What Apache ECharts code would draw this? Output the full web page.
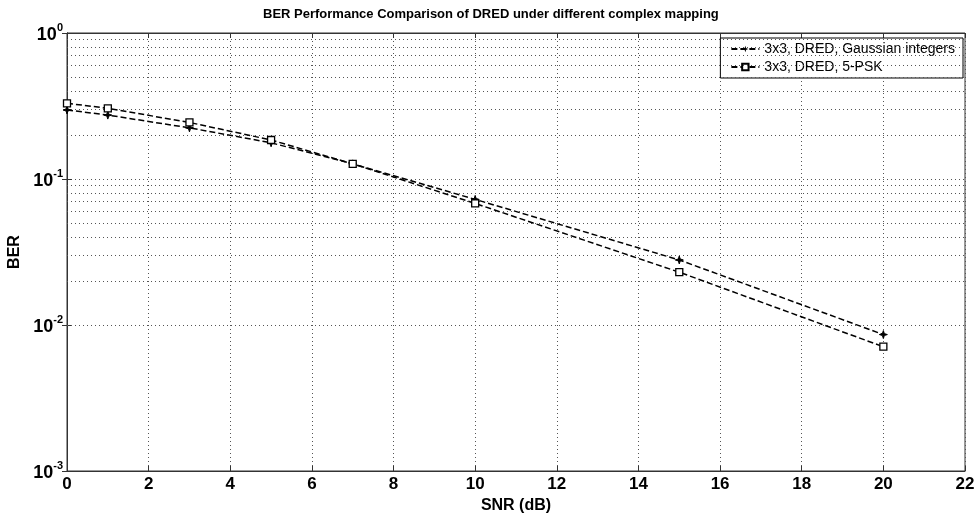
<!DOCTYPE html>
<html>
<head>
<meta charset="utf-8">
<script src="https://cdn.jsdelivr.net/npm/echarts@6/dist/echarts.min.js"></script>
<style>
  html, body { margin: 0; padding: 0; background: #fff; }
  #chart { width: 975px; height: 518px; }
</style>
</head>
<body>
<div id="chart"></div>
<script>
// SNR points (dB)
const snr = [0, 1, 3, 5, 7, 10, 15, 20];
// BER
const berGaussian = [0.297, 0.274, 0.224, 0.177, 0.127, 0.0725, 0.0279, 0.0086];
const berPsk5 = [0.33, 0.305, 0.244, 0.185, 0.127, 0.068, 0.0230, 0.0071];
const seriesNames = ['3x3, DRED, Gaussian integers', '3x3, DRED, 5-PSK'];
// decades of the log axis, minor grid at 2..9 inside each
const decades = [0.001, 0.01, 0.1];
const minorSteps = [2, 3, 4, 5, 6, 7, 8, 9];

const font = '"Liberation Sans", Arial, Helvetica, sans-serif';
const gridDot = { color: '#555', type: [1, 3], width: 1 };

const minorLines = [];
decades.forEach(d => minorSteps.forEach(k => minorLines.push({ yAxis: +(d * k).toPrecision(3) })));

const toPairs = ys => snr.map((x, i) => [x, ys[i]]);

const chart = echarts.init(document.getElementById('chart'));

const option = {
  animation: false,
  backgroundColor: '#fff',
  textStyle: { fontFamily: font },
  title: {
    text: 'BER Performance Comparison of DRED under different complex mapping',
    left: 258, top: 3,
    textStyle: { fontSize: 13, fontWeight: 'bold', color: '#000', fontFamily: font }
  },
  legend: {
    orient: 'vertical',
    right: 12, top: 38,
    backgroundColor: '#fff',
    borderColor: '#000', borderWidth: 1,
    padding: [4, 8, 4, 10],
    itemGap: 4,
    itemWidth: 28, itemHeight: 8,
    textStyle: { fontSize: 14, color: '#000', fontFamily: font },
    data: seriesNames
  },
  grid: {
    left: 67, right: 10, top: 33, bottom: 47,
    outerBoundsMode: 'none', containLabel: false,
    show: true, borderColor: '#333', borderWidth: 1
  },
  xAxis: [
    {
      type: 'value', min: 0, max: 22, interval: 2,
      name: 'SNR (dB)', nameLocation: 'middle', nameGap: 26,
      nameTextStyle: { fontSize: 16, fontWeight: 'bold', color: '#000' },
      axisLine: { lineStyle: { color: '#333' } },
      axisTick: { inside: true, length: 5, lineStyle: { color: '#333' } },
      axisLabel: { fontSize: 17, fontWeight: 'bold', color: '#000', margin: 5 },
      splitLine: { show: true, lineStyle: gridDot }
    },
    {
      type: 'value', min: 0, max: 22, interval: 2, position: 'top',
      axisLine: { lineStyle: { color: '#333' } },
      axisTick: { inside: true, length: 5, lineStyle: { color: '#333' } },
      axisLabel: { show: false },
      splitLine: { show: false }
    }
  ],
  yAxis: [
    {
      type: 'log', logBase: 10, min: 0.001, max: 1,
      name: 'BER', nameLocation: 'middle', nameGap: 42,
      nameTextStyle: { fontSize: 16, fontWeight: 'bold', color: '#000' },
      axisLine: { show: true, lineStyle: { color: '#333' } },
      axisTick: { inside: true, length: 5, lineStyle: { color: '#333' } },
      axisLabel: {
        margin: 4,
        formatter: v => '{b|10}{e|' + Math.round(Math.log10(v)) + '}',
        rich: {
          b: { fontSize: 18, fontWeight: 'bold', color: '#000', fontFamily: font, verticalAlign: 'bottom', lineHeight: 22 },
          e: { fontSize: 11, fontWeight: 'bold', color: '#000', fontFamily: font, verticalAlign: 'top', lineHeight: 22 }
        }
      },
      splitLine: { show: true, lineStyle: gridDot }
    },
    {
      type: 'log', logBase: 10, min: 0.001, max: 1, position: 'right',
      axisLine: { show: true, lineStyle: { color: '#333' } },
      axisTick: { inside: true, length: 5, lineStyle: { color: '#333' } },
      axisLabel: { show: false },
      splitLine: { show: false }
    }
  ],
  series: [
    {
      name: seriesNames[0], type: 'line', data: toPairs(berGaussian),
      symbol: 'path://M5,0 L6.2,3.8 L10,5 L6.2,6.2 L5,10 L3.8,6.2 L0,5 L3.8,3.8 Z', symbolSize: 8,
      lineStyle: { color: '#000', width: 1.5, type: [6, 3] },
      itemStyle: { color: '#000', borderColor: '#000' },
      z: 5,
      markLine: {
        silent: true, symbol: 'none', animation: false,
        label: { show: false },
        lineStyle: gridDot,
        data: minorLines
      }
    },
    {
      name: seriesNames[1], type: 'line', data: toPairs(berPsk5),
      symbol: 'rect', symbolSize: 7,
      lineStyle: { color: '#000', width: 1.5, type: [6, 3] },
      itemStyle: { color: '#fff', borderColor: '#000', borderWidth: 1.3 },
      z: 5
    }
  ]
};

chart.setOption(option);
</script>
</body>
</html>
